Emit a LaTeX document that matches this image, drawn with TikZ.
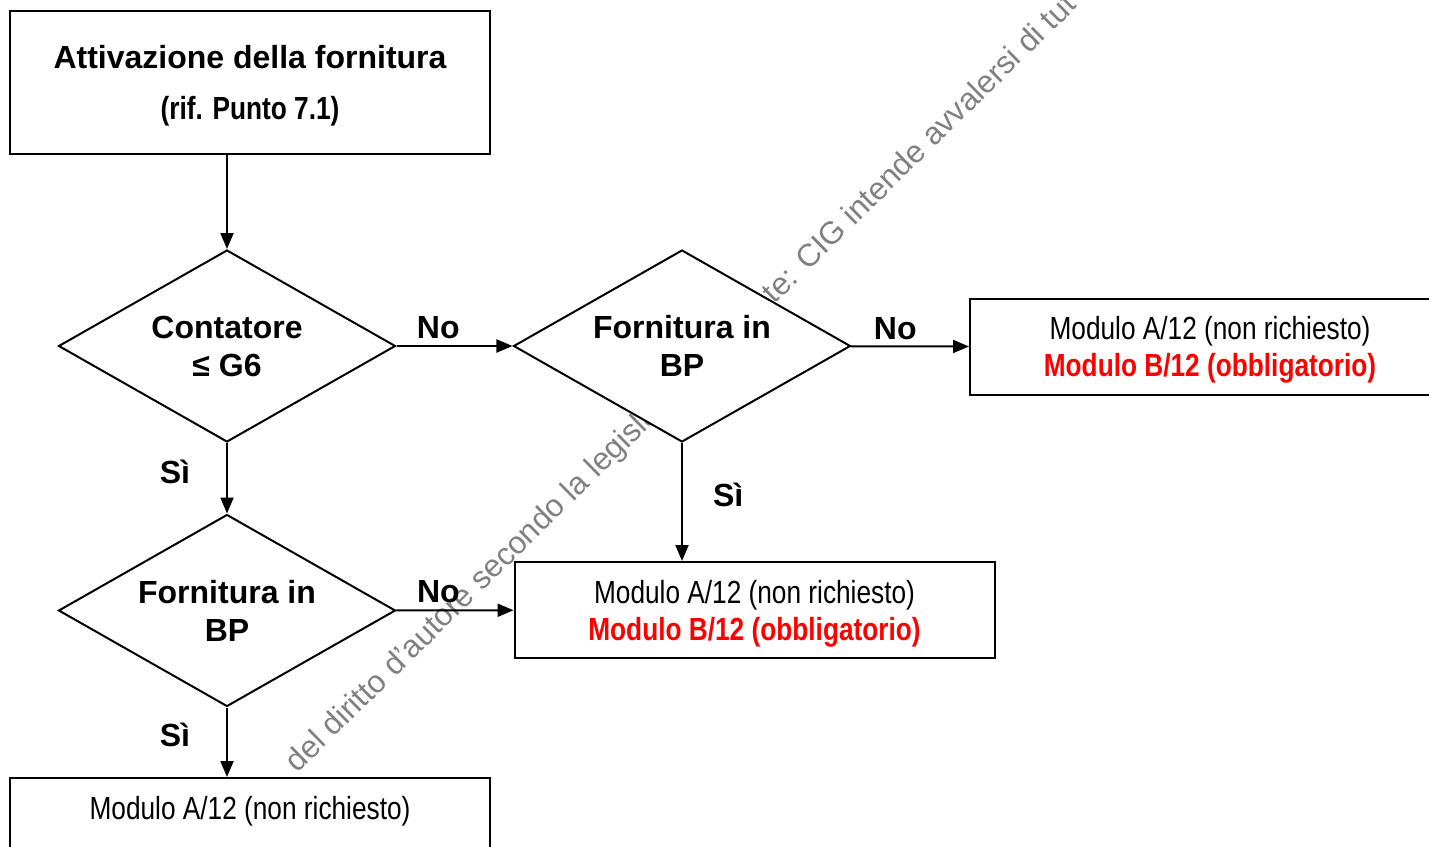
\documentclass[tikz,border=0pt]{standalone}
\usepackage{fontspec}
\setmainfont{Liberation Sans}
\newfontfamily\narrow[FakeStretch=0.82]{Liberation Sans}
\usetikzlibrary{arrows.meta, shapes.geometric}

\begin{document}
\begin{tikzpicture}[x=0.5pt, y=-0.5pt, line width=1pt,
  box/.style={draw, fill=white, minimum width=240pt, minimum height=48pt, inner sep=0pt, text depth=0pt, align=center, font=\fontsize{16}{18.5}\selectfont\narrow},
  dec/.style={diamond, draw, fill=white, aspect=1.75, minimum width=168.5pt, minimum height=96pt, inner sep=0pt, align=center, font=\fontsize{16}{19}\selectfont\bfseries},
  lbl/.style={font=\fontsize{16}{19}\selectfont\bfseries, inner sep=0pt},
  wm/.style={text=black!50, font=\fontsize{15.75}{16}\selectfont, inner sep=0pt, rotate=44.5, anchor=base west},
  arr/.style={-{Triangle[length=8pt, width=6.5pt]}}]
\useasboundingbox (0,0) rectangle (1429,846);
\node[wm] (W) at (297,774) {del diritto d'autore secondo la legisla\phantom{zione vigen}te: CIG intende avvalersi di tut};
\node[box, minimum height=71.5pt, font=\fontsize{16}{25.5}\selectfont\bfseries] (A) at (250,82.5) {Attivazione della fornitura\\{\narrow (rif. Punto 7.1)}};
\node[dec] (B) at (227,346) {Contatore\\≤ G6};
\node[dec] (C) at (682,346) {Fornitura in\\BP};
\node[box] (D) at (1210,346.5) {Modulo A/12 (non richiesto)\\\textcolor{red}{\bfseries Modulo B/12 (obbligatorio)}};
\node[dec] (E) at (227,610.5) {Fornitura in\\BP};
\node[box] (F) at (754.5,610) {Modulo A/12 (non richiesto)\\\textcolor{red}{\bfseries Modulo B/12 (obbligatorio)}};
\node[box] (G) at (250,826) {Modulo A/12 (non richiesto)\\\phantom{M}};
\draw[arr] (B.north |- A.south) -- (B.north);
\draw[arr] (B) -- node[lbl, pos=.36, above=3pt] (n1) {No} (C);
\draw[arr] (C) -- node[lbl, pos=.375, above=3pt] (n2) {No} (D.west);
\draw[arr] (B) -- node[lbl, pos=.41, left=18pt] (s1) {Sì} (E);
\draw[arr] (C) -- node[lbl, pos=.44, right=15pt] (s2) {Sì} (C |- F.north);
\draw[arr] (E) -- node[lbl, pos=.36, above=3pt] (n3) {No} (F);
\draw[arr] (E) -- node[lbl, pos=.39, left=18pt] (s3) {Sì} (E |- G.north);
\end{tikzpicture}
\end{document}
